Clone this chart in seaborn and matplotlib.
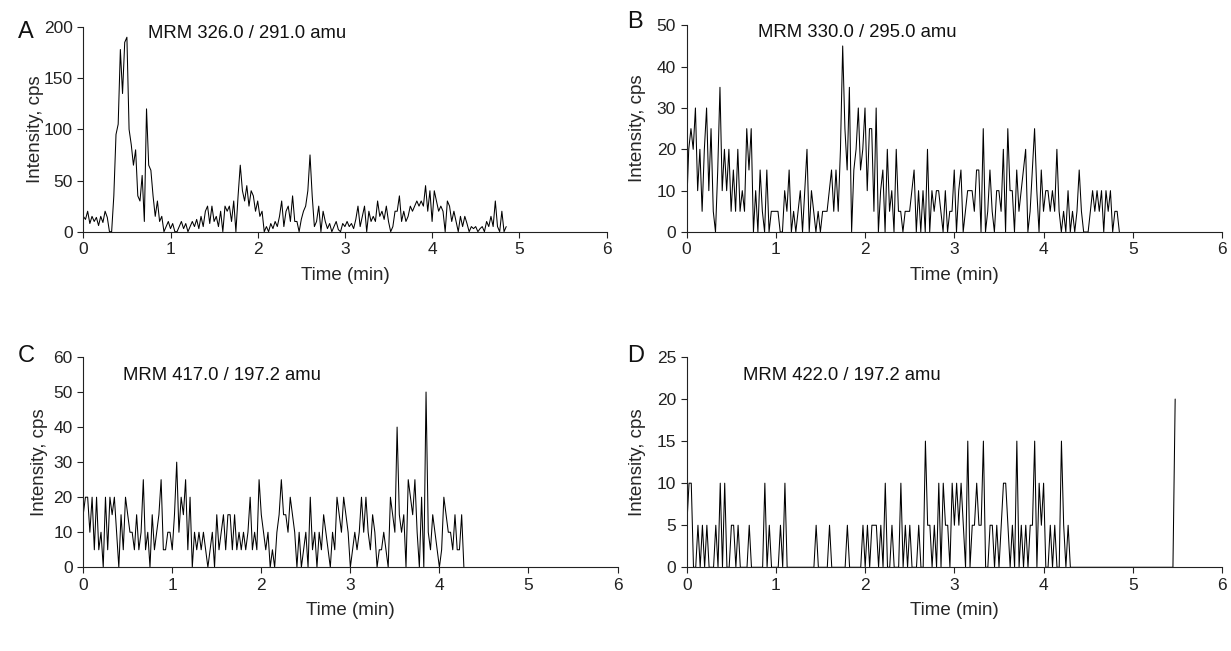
import numpy as np
import pandas as pd
import matplotlib
matplotlib.use("Agg")
import matplotlib.pyplot as plt
import seaborn as sns

# ---------------- data ----------------
SCAN_MIN = 0.025  # minutes between successive scans

time_ticks = [0, 1, 2, 3, 4, 5, 6]

a_title = "MRM 326.0 / 291.0 amu"
a_yticks = [0, 50, 100, 150, 200]
a_cps = [
    15, 12, 20, 8, 15, 10, 14, 6, 15, 9, 20,
    14, 0, 0, 35, 95, 105, 178, 135, 185, 190,
    100, 85, 65, 80, 35, 30, 55, 10, 120, 65,
    60, 35, 15, 30, 10, 15, 0, 5, 10, 3,
    8, 0, 0, 5, 10, 3, 8, 0, 5, 10,
    5, 12, 3, 15, 5, 20, 25, 8, 25, 10,
    15, 5, 20, 0, 25, 20, 25, 10, 30, 0,
    35, 65, 40, 30, 45, 25, 40, 35, 20, 30,
    15, 20, 0, 5, 0, 8, 3, 10, 5, 15,
    30, 5, 20, 25, 10, 35, 10, 10, 0, 12,
    20, 25, 40, 75, 35, 5, 10, 25, 0, 20,
    10, 3, 8, 0, 5, 10, 2, 0, 8,
    5, 10, 5, 8, 3, 12, 25, 5, 15, 25,
    0, 20, 10, 15, 10, 30, 15, 20, 12, 25,
    10, 0, 5, 20, 20, 35, 10, 20, 10, 15,
    25, 20, 25, 30, 25, 30, 25, 45, 20, 40,
    10, 40, 30, 20, 25, 20, 0, 30, 25, 10,
    20, 10, 0, 15, 5, 15, 8, 0, 5, 3,
    5, 0, 3, 5, 0, 10, 5, 15, 5, 30,
    5, 0, 20, 0, 5,
]

b_title = "MRM 330.0 / 295.0 amu"
b_yticks = [0, 10, 20, 30, 40, 50]
b_cps = [
    5, 20, 25, 20, 30, 10, 20, 5, 20, 30,
    10, 25, 5, 0, 15, 35, 10, 20, 10, 20,
    5, 15, 5, 20, 5, 10, 5, 25, 15, 25,
    0, 10, 0, 15, 5, 0, 15, 0, 5, 5,
    5, 5, 0, 0, 10, 5, 15, 0, 5, 0,
    5, 10, 0, 10, 20, 0, 10, 5, 0, 5,
    0, 5, 5, 5, 10, 15, 5, 15, 5, 20,
    45, 25, 15, 35, 0, 15, 20, 30, 15, 20,
    30, 10, 25, 25, 5, 30, 0, 10, 15, 0,
    20, 5, 10, 0, 20, 5, 5, 0, 5, 5,
    5, 10, 15, 0, 10, 0, 10, 0, 20, 0,
    10, 5, 10, 10, 5, 0, 10, 0, 5, 5,
    15, 0, 10, 15, 0, 5, 10, 10, 10, 5,
    15, 15, 0, 25, 0, 5, 15, 5, 0, 10,
    10, 5, 20, 0, 25, 10, 10, 0, 15, 5,
    10, 15, 20, 0, 5, 15, 25, 10, 0, 15,
    5, 10, 10, 5, 10, 5, 20, 5, 0, 5,
    0, 10, 0, 5, 0, 5, 15, 5, 0, 0,
    0, 5, 10, 5, 10, 5, 10, 0, 10, 5,
    10, 0, 5, 5, 0,
]

c_title = "MRM 417.0 / 197.2 amu"
c_yticks = [0, 10, 20, 30, 40, 50, 60]
c_cps = [
    15, 20, 20, 10, 20, 5, 20, 5, 10, 0,
    20, 5, 20, 15, 20, 10, 0, 15, 5, 20,
    15, 10, 10, 5, 15, 5, 10, 25, 5, 10,
    0, 15, 5, 10, 15, 25, 5, 5, 10, 10,
    5, 15, 30, 10, 20, 15, 25, 5, 20, 0,
    10, 5, 10, 5, 10, 5, 0, 5, 10, 0,
    15, 5, 10, 15, 5, 15, 15, 5, 15, 5,
    10, 5, 10, 5, 10, 20, 5, 10, 5, 25,
    15, 10, 5, 10, 0, 5, 0, 10, 15, 25,
    15, 15, 10, 20, 15, 10, 0, 10, 0, 5,
    10, 0, 20, 5, 10, 0, 10, 5, 15, 10,
    5, 0, 10, 5, 20, 15, 10, 20, 15, 10,
    0, 5, 10, 5, 10, 20, 10, 20, 10, 5,
    15, 10, 0, 5, 5, 10, 5, 0, 20, 15,
    10, 40, 15, 10, 15, 0, 25, 20, 15, 25,
    10, 0, 20, 0, 50, 10, 5, 15, 10, 5,
    0, 5, 20, 15, 10, 10, 5, 15, 5, 5,
    15, 0,
]

d_title = "MRM 422.0 / 197.2 amu"
d_yticks = [0, 5, 10, 15, 20, 25]
d_cps = [
    5, 10, 10, 0, 0, 5, 0, 5, 0, 5,
    0, 0, 0, 5, 0, 10, 0, 10, 0, 0,
    5, 5, 0, 5, 0, 0, 0, 0, 5, 0,
    0, 0, 0, 0, 0, 10, 0, 5, 0, 0,
    0, 0, 5, 0, 10, 0, 0, 0, 0, 0,
    0, 0, 0, 0, 0, 0, 0, 0, 5, 0,
    0, 0, 0, 0, 5, 0, 0, 0, 0, 0,
    0, 0, 5, 0, 0, 0, 0, 0, 0, 5,
    0, 5, 0, 5, 5, 5, 0, 5, 0, 10,
    0, 0, 5, 0, 0, 0, 10, 0, 5, 0,
    5, 0, 0, 0, 5, 0, 0, 15, 5, 5,
    0, 5, 0, 10, 0, 10, 5, 5, 0, 10,
    5, 10, 5, 10, 5, 0, 15, 0, 5, 5,
    10, 5, 5, 15, 0, 0, 5, 5, 0, 5,
    0, 5, 10, 10, 5, 0, 5, 0, 15, 0,
    5, 0, 5, 0, 5, 5, 15, 0, 10, 5,
    10, 0, 0, 5, 0, 5, 0, 0, 15, 5,
    0, 5, 0,
]
# isolated late scans in D
d_tail_time = [5.45, 5.475]
d_tail_cps = [0, 20]

# ---------------- figure ----------------
sns.set_style("ticks")
plt.rcParams['font.family'] = ['Liberation Sans', 'DejaVu Sans']

W, H = 1231, 651
fig = plt.figure(figsize=(W / 100, H / 100), dpi=100)


def frame(left, right, top, bottom):
    return [left / W, 1 - bottom / H, (right - left) / W, (bottom - top) / H]


def series(values, tail_t=None, tail_v=None):
    t = list(np.arange(len(values)) * SCAN_MIN)
    v = list(values)
    if tail_t is not None:
        t += list(tail_t)
        v += list(tail_v)
    return pd.DataFrame({"Time (min)": t, "Intensity, cps": v})


panels = [
    dict(letter="A", df=series(a_cps), yt=a_yticks, title=a_title,
         rect=frame(83.3, 606.5, 27.0, 231.7), txt=(0.124, 0.97), let=(18, 32), ylab_x=36),
    dict(letter="B", df=series(b_cps), yt=b_yticks, title=b_title,
         rect=frame(686.5, 1222.0, 25.3, 232.0), txt=(0.134, 0.963), let=(627, 22), ylab_x=637),
    dict(letter="C", df=series(c_cps), yt=c_yticks, title=c_title,
         rect=frame(83.2, 617.5, 357.0, 567.3), txt=(0.075, 0.914), let=(18, 356), ylab_x=39),
    dict(letter="D", df=series(d_cps, d_tail_time, d_tail_cps), yt=d_yticks, title=d_title,
         rect=frame(686.8, 1222.0, 357.0, 567.3), txt=(0.1055, 0.914), let=(627, 356), ylab_x=637),
]

TICK_FS = 12.5
LABEL_FS = 13.5
TEXT_FS = 13.3
for p in panels:
    ax = fig.add_axes(p["rect"])
    sns.lineplot(data=p["df"], x="Time (min)", y="Intensity, cps", ax=ax,
                 color="black", linewidth=0.75, estimator=None, sort=False)
    ax.set_xlim(time_ticks[0], time_ticks[-1])
    ax.set_ylim(p["yt"][0], p["yt"][-1])
    ax.set_xticks(time_ticks)
    ax.set_yticks(p["yt"])
    ax.set_xlabel("Time (min)", fontsize=LABEL_FS, labelpad=7)
    ax.set_ylabel("Intensity, cps", fontsize=LABEL_FS, va="center")
    left_px = p["rect"][0] * W
    width_px = p["rect"][2] * W
    ax.yaxis.set_label_coords((p["ylab_x"] - left_px) / width_px, 0.5)
    ax.tick_params(direction="out", length=4, width=0.8, labelsize=TICK_FS, colors="#222222")
    sns.despine(ax=ax)
    for s in ("left", "bottom"):
        ax.spines[s].set_linewidth(0.8)
        ax.spines[s].set_color("#222222")
    ax.text(p["txt"][0], p["txt"][1], p["title"], transform=ax.transAxes,
            fontsize=TEXT_FS, va="center", ha="left", color="#111111")
    fig.text(p["let"][0] / W, 1 - p["let"][1] / H, p["letter"], fontsize=17,
             va="center", ha="left", color="#111111")

fig.savefig("out.png", dpi=100)
